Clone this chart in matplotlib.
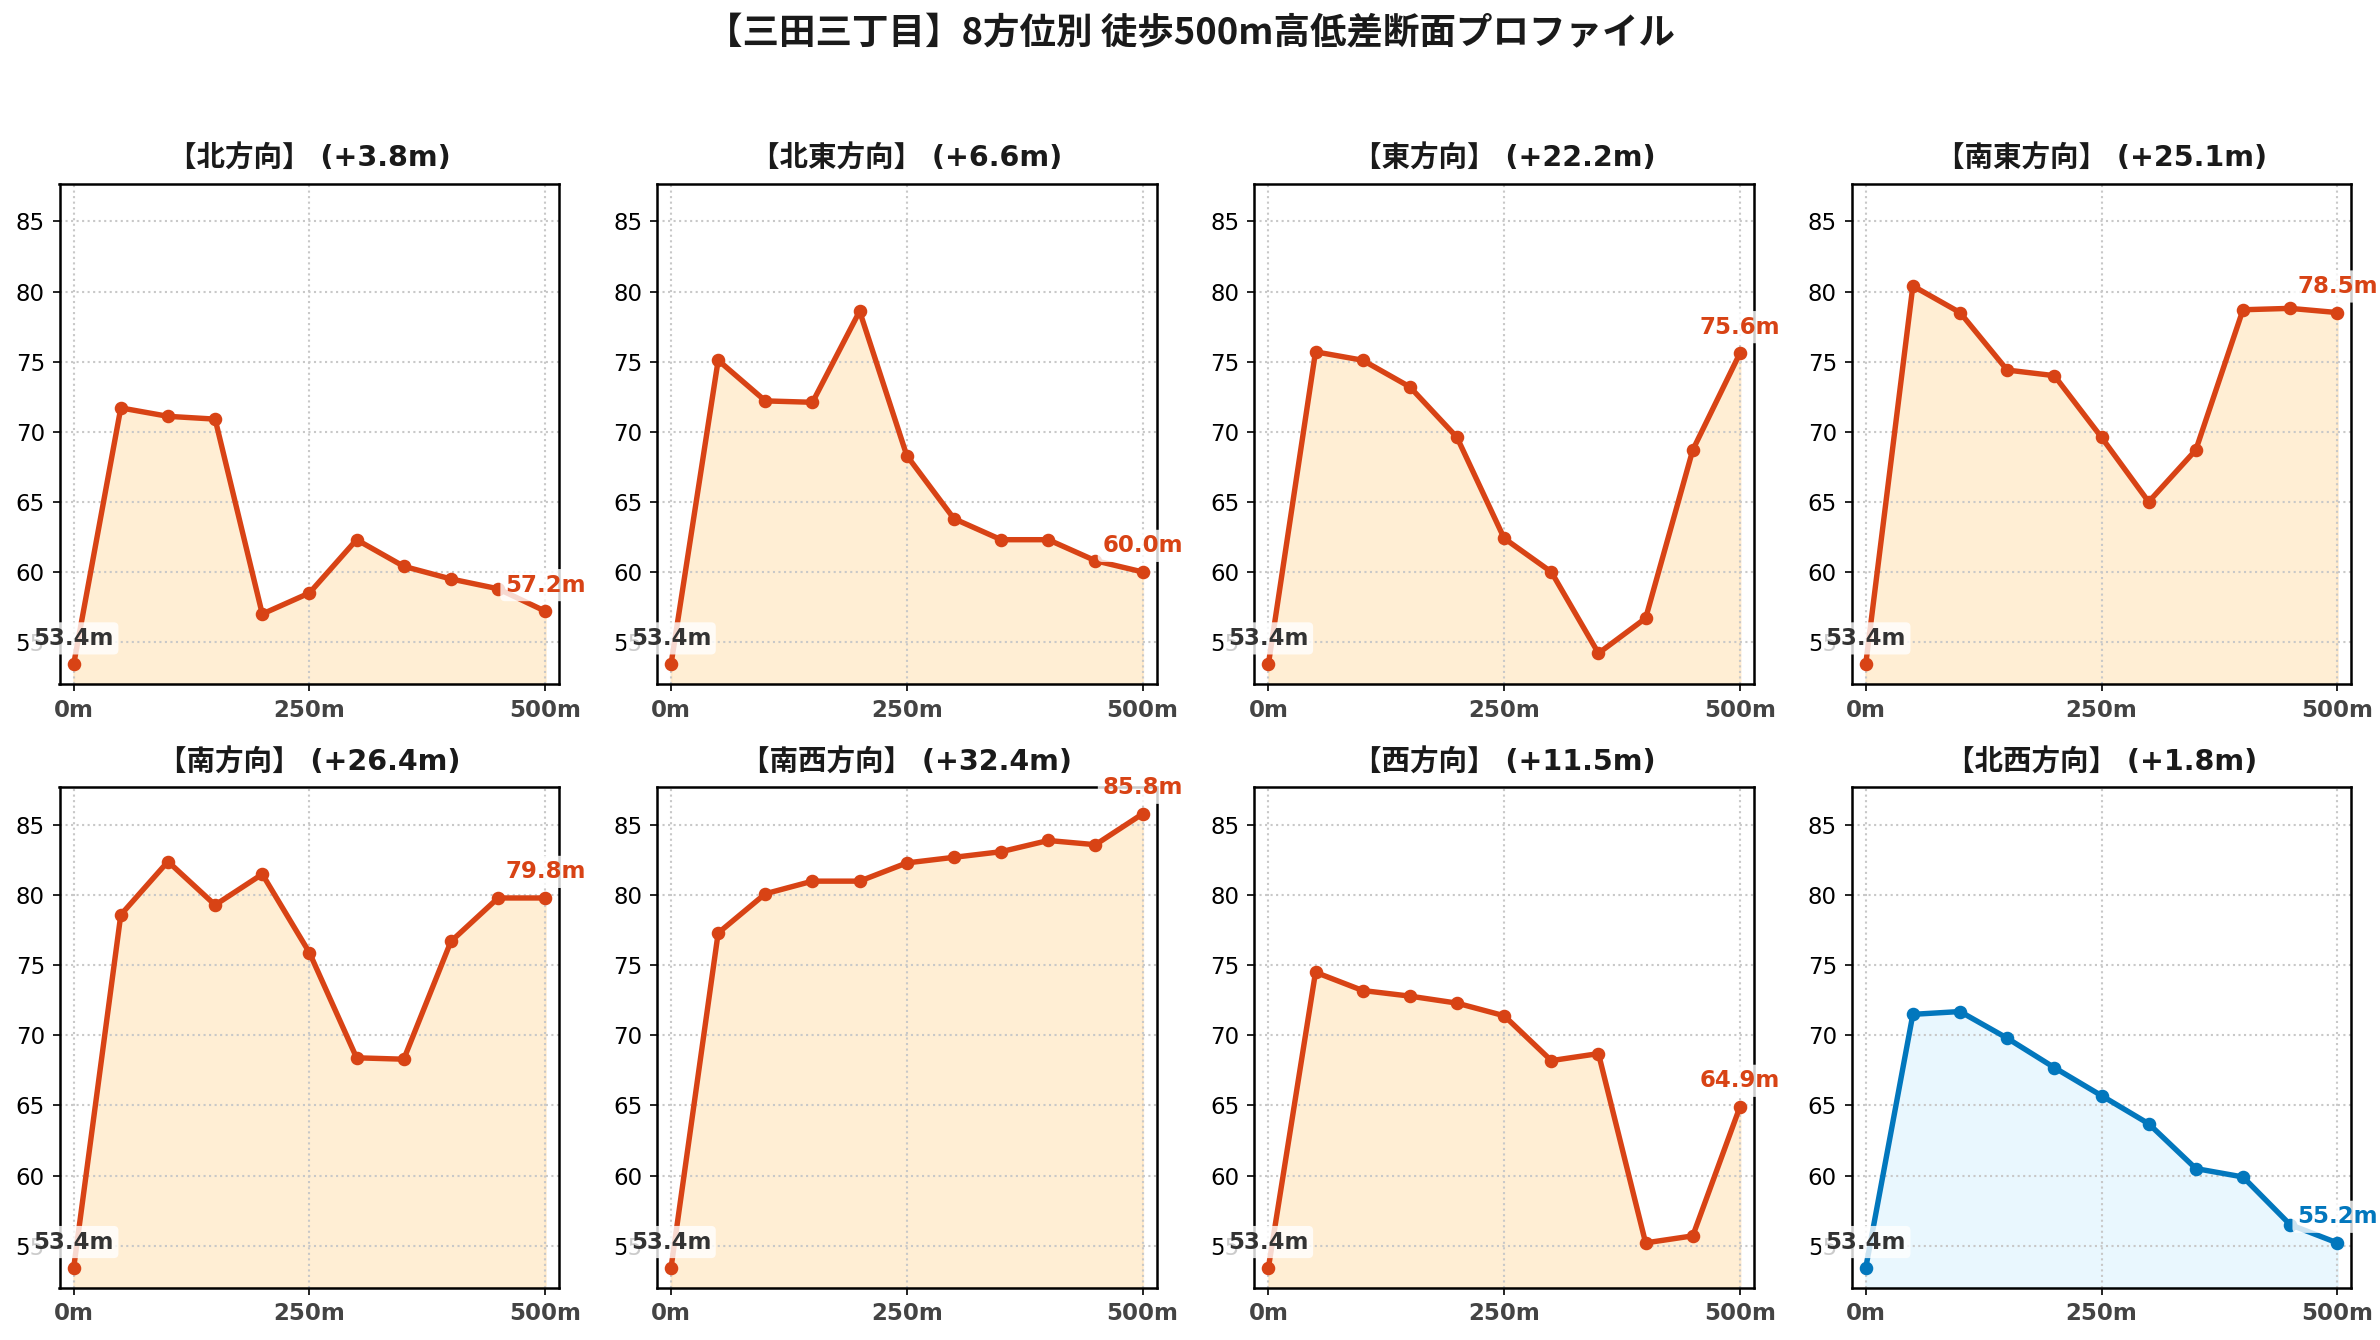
import matplotlib
matplotlib.use("Agg")
import matplotlib.pyplot as plt

# distance from the start point (m)
dist = [0, 50, 100, 150, 200, 250, 300, 350, 400, 450, 500]

# elevation profiles (m) for each direction
north = [53.4, 71.7, 71.1, 70.9, 57.0, 58.5, 62.3, 60.4, 59.5, 58.8, 57.2]
north_east = [53.4, 75.1, 72.2, 72.1, 78.6, 68.3, 63.8, 62.3, 62.3, 60.8, 60.0]
east = [53.4, 75.7, 75.1, 73.2, 69.6, 62.4, 60.0, 54.2, 56.7, 68.7, 75.6]
south_east = [53.4, 80.4, 78.5, 74.4, 74.0, 69.6, 65.0, 68.7, 78.7, 78.8, 78.5]
south = [53.4, 78.6, 82.4, 79.3, 81.5, 75.9, 68.4, 68.3, 76.7, 79.8, 79.8]
south_west = [53.4, 77.3, 80.1, 81.0, 81.0, 82.3, 82.7, 83.1, 83.9, 83.6, 85.8]
west = [53.4, 74.5, 73.2, 72.8, 72.3, 71.4, 68.2, 68.7, 55.2, 55.7, 64.9]
north_west = [53.4, 71.5, 71.7, 69.8, 67.7, 65.7, 63.7, 60.5, 59.9, 56.5, 55.2]

names = ["北", "北東", "東", "南東", "南", "南西", "西", "北西"]
profiles = [north, north_east, east, south_east, south, south_west, west, north_west]
line_colors = ["#D84315"] * 7 + ["#0277BD"]
fill_colors = ["#FFE0B2"] * 7 + ["#E1F5FE"]
fill_alpha = [0.55] * 7 + [0.7]

x_ticks = [0, 250, 500]
x_tick_labels = ["0m", "250m", "500m"]

y_min, y_max = 52.0, 87.7
mixed_font = ["DejaVu Sans", "Noto Sans CJK JP"]
jp_font = ["Noto Sans CJK JP", "DejaVu Sans"]

fig, axes = plt.subplots(2, 4, figsize=(2380 / 150, 1340 / 150), dpi=150)
fig.subplots_adjust(left=0.025, right=0.988, top=0.863, bottom=0.039,
                    wspace=0.195, hspace=0.206)

for ax, name, elev, lc, fc, fa in zip(axes.flat, names, profiles,
                                      line_colors, fill_colors, fill_alpha):
    ax.fill_between(dist, elev, y_min, color=fc, alpha=fa, zorder=1)
    ax.plot(dist, elev, color=lc, linewidth=2.6, marker="o", markersize=5.5, zorder=3)

    diff = elev[-1] - elev[0]
    ax.set_title(f"【{name}方向】 (+{diff:.1f}m)", family=mixed_font,
                 fontweight="bold", fontsize=13.7, color="#1a1a1a", pad=8)

    # start / end labels
    box = dict(boxstyle="round,pad=0.2", facecolor="white", edgecolor="none", alpha=0.8)
    ax.annotate(f"{elev[0]:.1f}m", (dist[0], elev[0]), xytext=(0, 7),
                textcoords="offset points", ha="center", va="bottom",
                fontsize=11, fontweight="bold", color="#333333", bbox=box, zorder=5)
    ax.annotate(f"{elev[-1]:.1f}m", (dist[-1], elev[-1]), xytext=(0, 7),
                textcoords="offset points", ha="center", va="bottom",
                fontsize=11, fontweight="bold", color=lc, bbox=box, zorder=5)

    ax.set_xlim(-15, 515)
    ax.set_ylim(y_min, y_max)
    ax.set_xticks(x_ticks)
    ax.set_xticklabels(x_tick_labels, fontsize=11, fontweight="bold", color="#444444",
                       family="DejaVu Sans")
    for lab in ax.get_yticklabels():
        lab.set_family("DejaVu Sans")
    ax.tick_params(axis="y", labelsize=11)
    ax.grid(True, linestyle=":", color="#C8C8C8", linewidth=1.0)
    for s in ax.spines.values():
        s.set_linewidth(1.2)

fig.suptitle("【三田三丁目】8方位別 徒歩500m高低差断面プロファイル", family=jp_font,
             fontweight="bold", fontsize=17.5, y=0.975, va="center", color="#1a1a1a")

fig.savefig("out.png", dpi=150)
